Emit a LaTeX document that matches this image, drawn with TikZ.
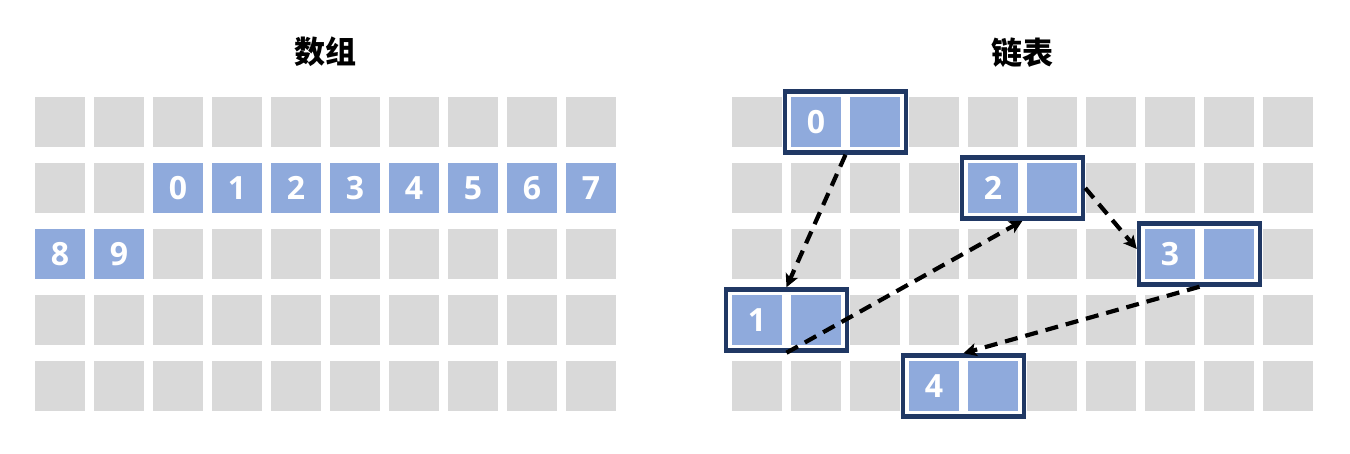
\documentclass[tikz,border=0pt]{standalone}
\usepackage{fontspec}
\setmainfont{Open Sans}
\newfontfamily\cjk{Noto Sans CJK SC}[BoldFont={Noto Sans CJK SC Black}]
\usetikzlibrary{arrows.meta}
\definecolor{cellgray}{HTML}{D9D9D9}
\definecolor{cellblue}{HTML}{8FAADC}
\definecolor{framedark}{HTML}{203864}
\begin{document}
\begin{tikzpicture}[x=1pt,y=-1pt,
  gcell/.style={minimum size=50pt, inner sep=0pt, outer sep=0pt, fill=cellgray},
  bcell/.style={gcell, fill=cellblue, text=white, font=\fontsize{32}{32}\selectfont\bfseries, text height=23pt, text depth=0pt},
  llframe/.style={draw=framedark, line width=4.5pt, minimum width=121pt, minimum height=61pt, inner sep=0pt},
  link/.style={line width=4.2pt, dash pattern=on 13pt off 8pt, -{Stealth[length=13pt,width=13pt,inset=3pt]}},
  ttl/.style={font=\cjk\bfseries\fontsize{31}{31}\selectfont, inner sep=0pt}
]
\useasboundingbox (0,0) rectangle (1350,454);
% titles
\node[ttl] (t1) at (325.5,52) {数组};
\node[ttl] (t2) at (1022.5,53) {链表};
% grids
\foreach \r in {0,...,4}{
  \foreach \c in {0,...,9}{
    \node[gcell] (a-\r-\c) at ({60+59*\c},{122+66*\r}) {};
    \node[gcell] (b-\r-\c) at ({757+59*\c},{122+66*\r}) {};
  }
}
% array elements
\foreach \c [evaluate=\c as \v using int(\c-2)] in {2,...,9}{
  \node[bcell] (ae-\v) at ({60+59*\c},188) {\v};
}
\node[bcell] (ae-8) at (60,254) {8};
\node[bcell] (ae-9) at (119,254) {9};
% linked list nodes
\foreach \k/\c/\r in {0/1/0,1/0/3,2/4/1,3/7/2,4/3/4}{
  \node[bcell] (v\k) at ({757+59*\c},{122+66*\r}) {\k};
  \node[bcell] (p\k) at ({757+59*(\c+1)},{122+66*\r}) {};
  \node[llframe] (n\k) at ({757+59*\c+29.5},{122+66*\r}) {};
}
% links
\draw[link] (n0.south) -- (n1.north);
\draw[link] (n1.south) -- (n2.south);
\draw[link] (n2.east) -- ([yshift=5pt]n3.west);
\draw[link] (n3.south) -- (n4.north);
\end{tikzpicture}
\end{document}
